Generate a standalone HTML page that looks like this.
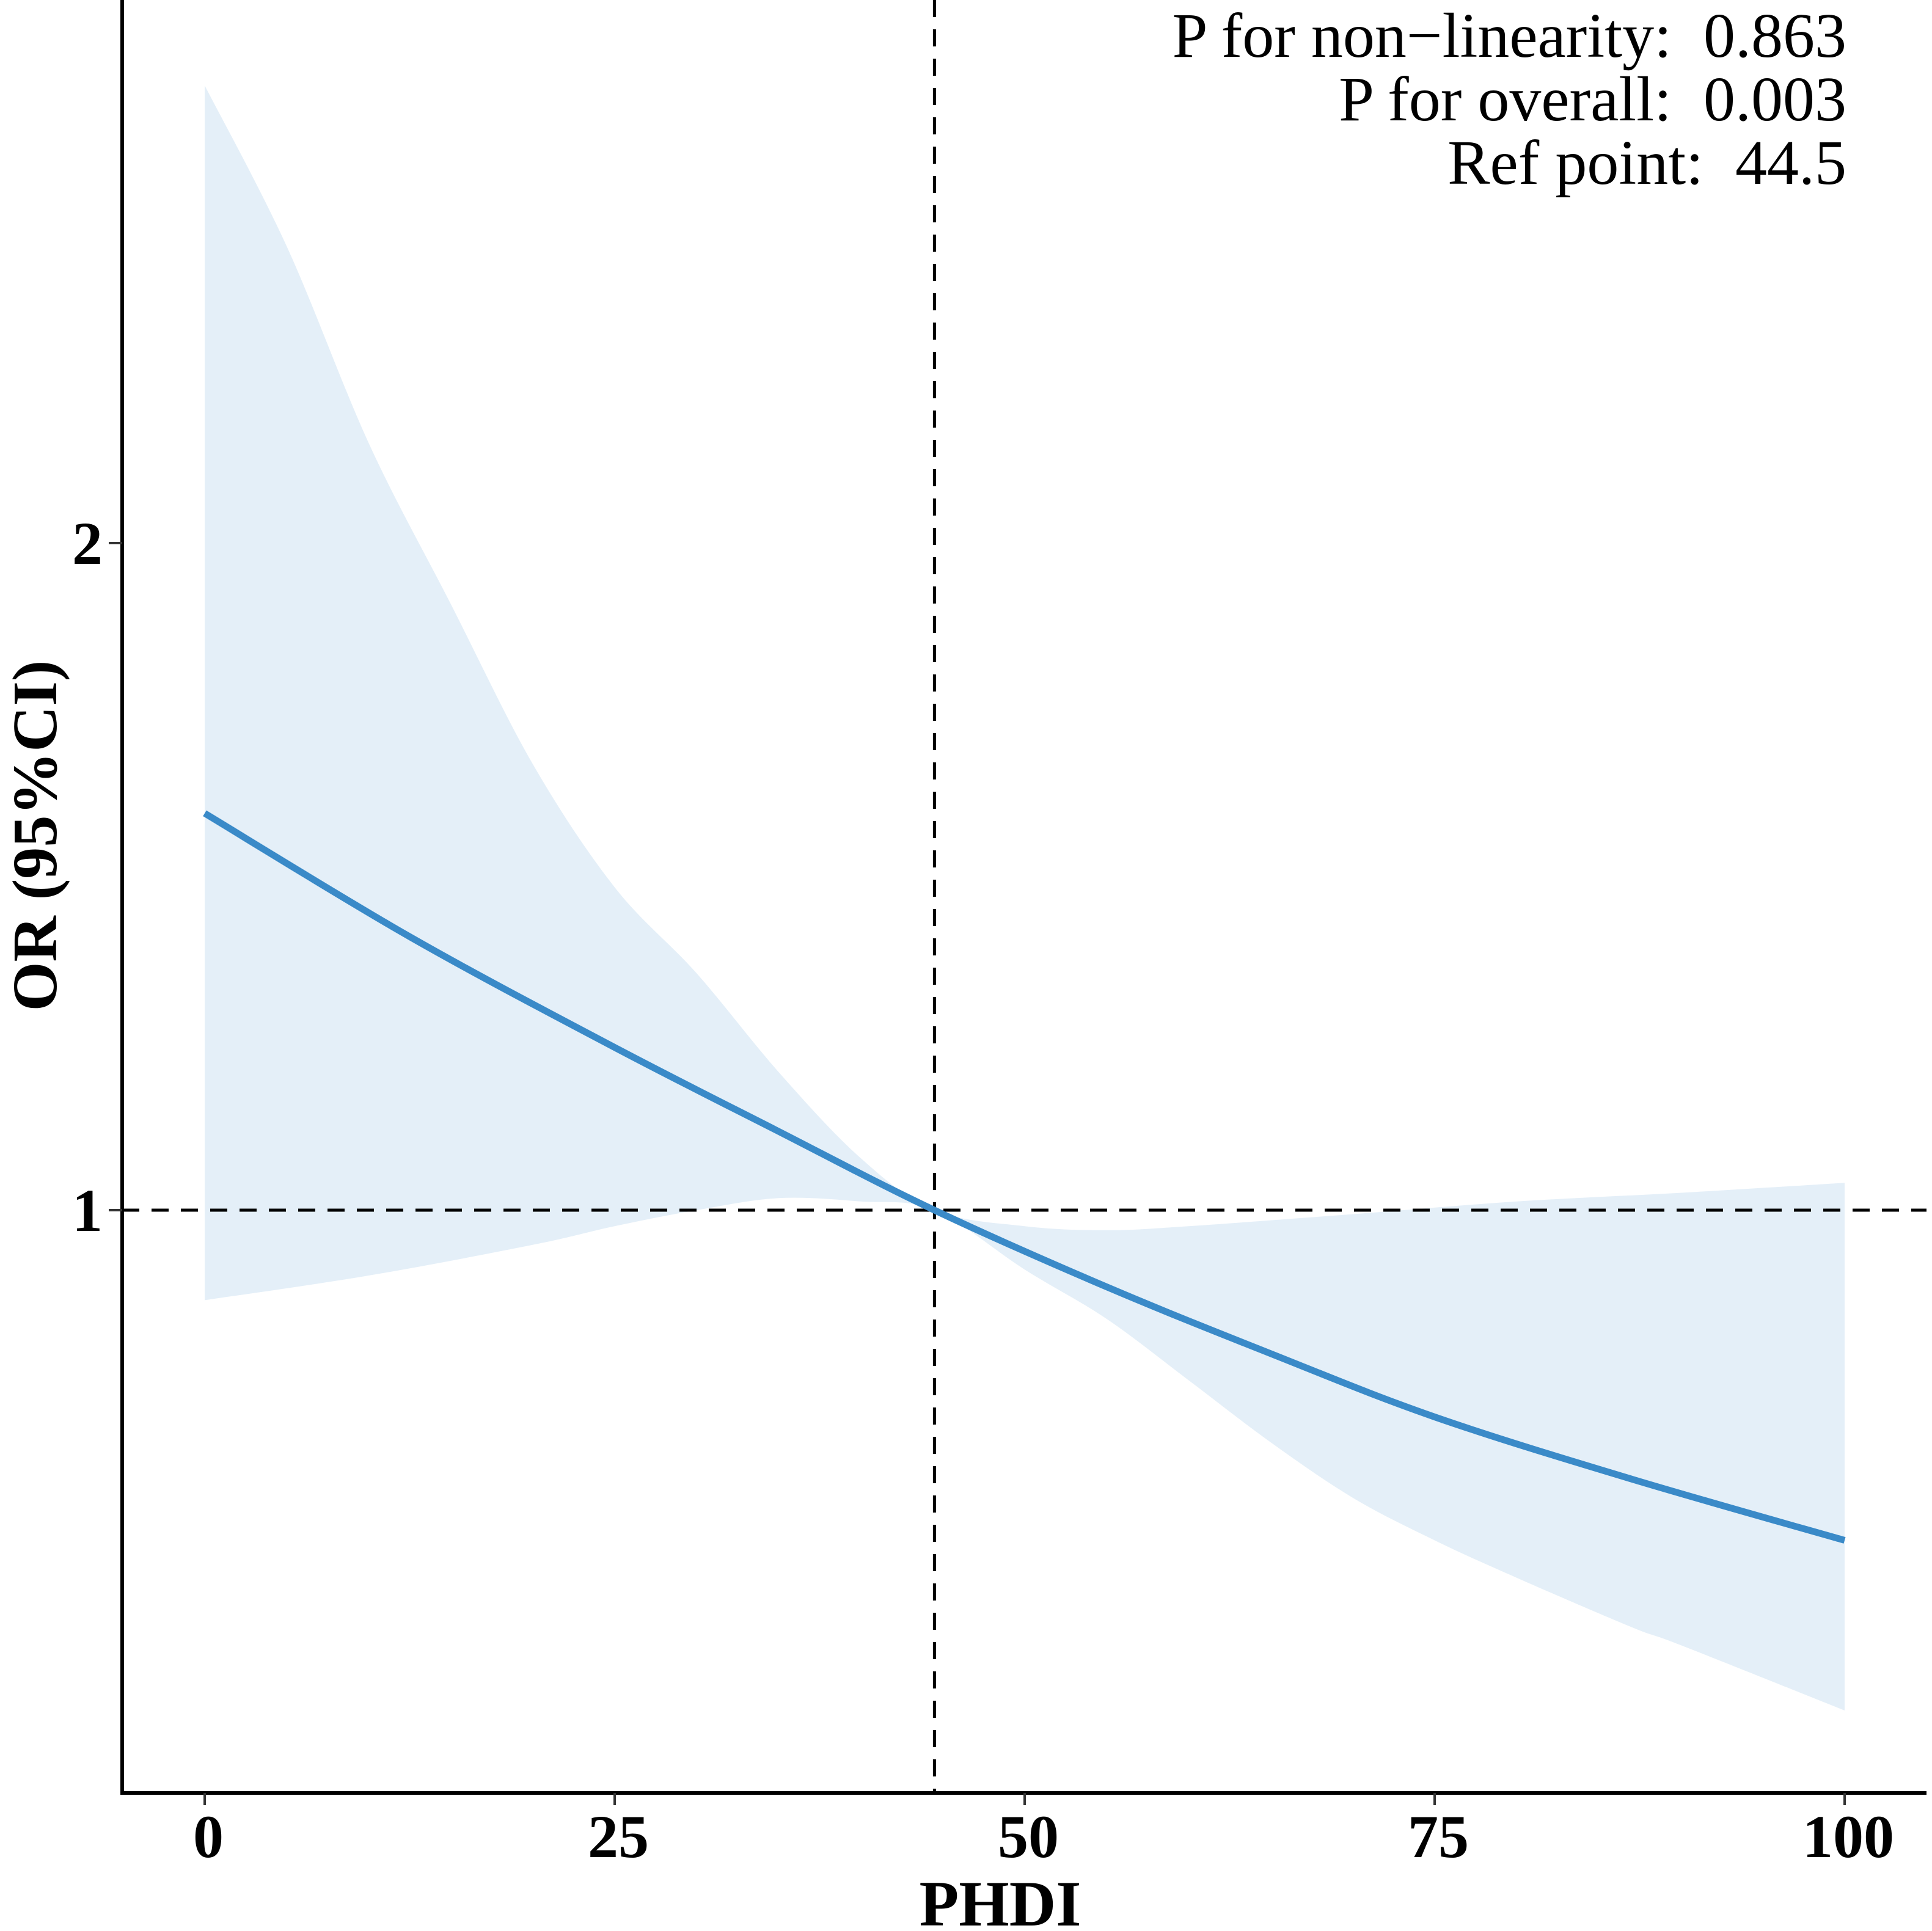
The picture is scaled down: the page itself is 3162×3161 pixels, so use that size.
<!DOCTYPE html>
<html><head><meta charset="utf-8"><style>
html,body{margin:0;padding:0;background:#fff;}
svg{display:block;}
text{font-family:"Liberation Serif",serif;white-space:pre;}
</style></head><body>
<svg id="chart" width="3162" height="3161" viewBox="0 0 3162 3161" xmlns="http://www.w3.org/2000/svg">
<g id="plot"></g>
</svg>
<script>
const fitX = [0,12.5,25,35,44.5,55,65,75,87,100];
const fitY = [1.595,1.41,1.244,1.118,1.0,0.885,0.785,0.69,0.597,0.505];
const upX = [0,5,10,15,20,25,30,35,40,44.5,50,55,60,70,80,90,100];
const upY = [2.686,2.445,2.15,1.909,1.669,1.484,1.355,1.207,1.078,1.0,0.976,0.97,0.976,0.994,1.013,1.026,1.041];
const loX = [0,10,20,25,30,35,40,44.5,50,55,60,65,70,75,80,87,90,100];
const loY = [0.865,0.902,0.948,0.976,1.0,1.018,1.013,1.0,0.911,0.837,0.745,0.652,0.569,0.505,0.449,0.375,0.348,0.25];
const xTicks = [0,25,50,75,100];
const yTicks = [1,2];
const refPoint = 44.5;
const notes = ["P for non\u2212linearity:  0.863","P for overall:  0.003","Ref point:  44.5"];

const NS="http://www.w3.org/2000/svg";
const g=document.getElementById('plot');
const sx=v=>335+(3019-335)*v/100;
const sy=v=>1981-(1981-889)*(v-1);
function mk(t,a){const e=document.createElementNS(NS,t);for(const k in a)e.setAttribute(k,a[k]);g.appendChild(e);return e;}
function P(X,Y){return X.map((x,i)=>[sx(x),sy(Y[i])]);}
function spline(p,start){
  let d=(start?'M':'L')+p[0][0].toFixed(1)+','+p[0][1].toFixed(1);
  for(let i=0;i<p.length-1;i++){
    const p0=p[Math.max(i-1,0)],p1=p[i],p2=p[i+1],p3=p[Math.min(i+2,p.length-1)];
    const c1=[p1[0]+(p2[0]-p0[0])/6,p1[1]+(p2[1]-p0[1])/6];
    const c2=[p2[0]-(p3[0]-p1[0])/6,p2[1]-(p3[1]-p1[1])/6];
    d+=' C'+c1.map(v=>v.toFixed(1)).join(',')+' '+c2.map(v=>v.toFixed(1)).join(',')+' '+p2[0].toFixed(1)+','+p2[1].toFixed(1);
  }
  return d;
}
const band=mk('path',{d:spline(P(upX,upY),true)+' '+spline(P(loX,loY).reverse(),false)+' Z',fill:'#e4eff8',stroke:'none'});


const hl=mk('line',{x1:200,x2:3153,y1:sy(1),y2:sy(1),stroke:'#000','stroke-width':5,'stroke-dasharray':'28,20'});


const vl=mk('line',{x1:sx(refPoint),x2:sx(refPoint),y1:0,y2:2935,stroke:'#000','stroke-width':5,'stroke-dasharray':'28,20'});


const fl=mk('path',{d:spline(P(fitX,fitY),true),fill:'none',stroke:'#3a8ac8','stroke-width':11,'stroke-linejoin':'round'});


const ya=mk('line',{x1:200,x2:200,y1:0,y2:2938,stroke:'#000','stroke-width':6});


const xa=mk('line',{x1:197,x2:3153,y1:2935,y2:2935,stroke:'#000','stroke-width':6});


xTicks.forEach(v=>{
  const t=mk('line',{x1:sx(v),x2:sx(v),y1:2935,y2:2955,stroke:'#333','stroke-width':4});
  
  
  const l=mk('text',{x:sx(v)+6,y:3040,'text-anchor':'middle','font-size':100,'font-weight':'bold'});
  l.textContent=v;
  
  
});
yTicks.forEach(v=>{
  const t=mk('line',{x1:178,x2:200,y1:sy(v),y2:sy(v),stroke:'#333','stroke-width':4});
  
  
  const l=mk('text',{x:168,y:sy(v)+34,'text-anchor':'end','font-size':100,'font-weight':'bold'});
  l.textContent=v;
  
  
});
const xt=mk('text',{x:1637,y:3152,'text-anchor':'middle','font-size':106,'font-weight':'bold'});
xt.textContent='PHDI';


const yt=mk('text',{x:0,y:0,'text-anchor':'middle','font-size':104,'font-weight':'bold',transform:'translate(92,1368) rotate(-90)'});
yt.textContent='OR (95%CI)';


notes.forEach((s,i)=>{
  const t=mk('text',{x:3022,y:93+i*104,'text-anchor':'end','font-size':104});
  t.textContent=s;
  
  
});
</script>
</body></html>
